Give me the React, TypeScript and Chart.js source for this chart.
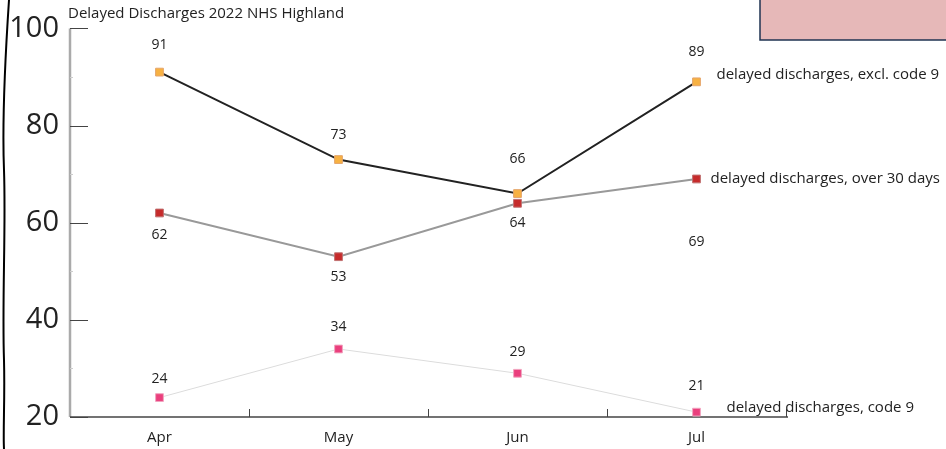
import React, { useEffect, useRef } from "react";
import { Chart, registerables } from "chart.js";

Chart.register(...registerables);

const months = ["Apr", "May", "Jun", "Jul"];
const exclCode9 = [91, 73, 66, 89];
const over30Days = [62, 53, 64, 69];
const code9 = [24, 34, 29, 21];
const seriesNames = [
  "delayed discharges, excl. code 9",
  "delayed discharges, over 30 days",
  "delayed discharges, code 9",
];
const yTicks = [20, 40, 60, 80, 100];
const chartTitle = "Delayed Discharges 2022 NHS Highland";

const FONT = "'Open Sans', 'Noto Sans', sans-serif";

// per-dataset label offsets (style only)
const labelOffsets = [
  [-27, -25, -35, -30],
  [22, 20, 20, 63],
  [-19, -22, -21, -26],
];
const nameOffsets = [
  { dx: 20, dy: -7 },
  { dx: 14, dy: 0 },
  { dx: 30, dy: -4 },
];

const decorPlugin = {
  id: "decor",
  beforeDraw(chart: any) {
    const ctx = chart.ctx;
    const ca = chart.chartArea;
    const x = chart.scales.x;
    const y = chart.scales.y;
    ctx.save();
    // pink box
    ctx.fillStyle = "#e6b8b8";
    ctx.fillRect(760, -2, 200, 42);
    ctx.strokeStyle = "#1f3352";
    ctx.lineWidth = 1.5;
    ctx.strokeRect(760, -2, 200, 42);
    // left wobbly border
    ctx.strokeStyle = "#000";
    ctx.lineWidth = 2;
    ctx.beginPath();
    ctx.moveTo(9, 0);
    ctx.bezierCurveTo(5, 60, 2, 120, 4, 170);
    ctx.bezierCurveTo(6, 230, 2, 300, 4, 360);
    ctx.bezierCurveTo(5, 400, 3, 430, 4, 449);
    ctx.stroke();
    // y axis line
    ctx.strokeStyle = "#aaa";
    ctx.lineWidth = 2.5;
    ctx.beginPath();
    ctx.moveTo(ca.left, ca.top);
    ctx.lineTo(ca.left, ca.bottom);
    ctx.stroke();
    // y major tick marks
    ctx.strokeStyle = "#444";
    ctx.lineWidth = 1;
    for (const v of yTicks) {
      const py = Math.round(y.getPixelForValue(v)) + 0.5;
      ctx.beginPath();
      ctx.moveTo(ca.left, py);
      ctx.lineTo(ca.left + 18, py);
      ctx.stroke();
    }
    // minor ticks
    ctx.strokeStyle = "#ccc";
    for (let i = 0; i < yTicks.length - 1; i++) {
      const py = Math.round(y.getPixelForValue((yTicks[i] + yTicks[i + 1]) / 2)) + 0.5;
      ctx.beginPath();
      ctx.moveTo(ca.left, py);
      ctx.lineTo(ca.left + 3, py);
      ctx.stroke();
    }
    // x axis line
    ctx.strokeStyle = "#444";
    ctx.lineWidth = 1.5;
    ctx.beginPath();
    ctx.moveTo(ca.left, ca.bottom);
    ctx.lineTo(ca.right + 2, ca.bottom);
    ctx.stroke();
    // x tick marks between categories
    ctx.lineWidth = 1;
    for (let i = 0; i < months.length; i++) {
      const next = i < months.length - 1 ? x.getPixelForValue(i + 1) : 2 * x.getPixelForValue(i) - x.getPixelForValue(i - 1);
      const px = Math.round((x.getPixelForValue(i) + next) / 2) + 0.5;
      ctx.beginPath();
      ctx.moveTo(px, ca.bottom);
      ctx.lineTo(px, ca.bottom - 8);
      ctx.stroke();
    }
    // title
    ctx.fillStyle = "#222";
    ctx.font = `15px ${FONT}`;
    ctx.textAlign = "left";
    ctx.textBaseline = "middle";
    ctx.fillText(chartTitle, ca.left - 2, 14);
    ctx.restore();
  },
  afterDatasetsDraw(chart: any) {
    const ctx = chart.ctx;
    ctx.save();
    ctx.fillStyle = "#222";
    ctx.textBaseline = "middle";
    chart.data.datasets.forEach((ds: any, di: number) => {
      const meta = chart.getDatasetMeta(di);
      ctx.font = `14px ${FONT}`;
      meta.data.forEach((pt: any, i: number) => {
        ctx.textAlign = "center";
        ctx.fillText(String(ds.data[i]), pt.x, pt.y + labelOffsets[di][i]);
      });
      const last = meta.data[meta.data.length - 1];
      ctx.font = `15px ${FONT}`;
      ctx.textAlign = "left";
      ctx.fillText(seriesNames[di], last.x + nameOffsets[di].dx, last.y + nameOffsets[di].dy);
    });
    ctx.restore();
  },
};

export default function App() {
  const ref = useRef<HTMLCanvasElement>(null);
  useEffect(() => {
    if (!ref.current) return;
    const chart = new Chart(ref.current, {
      type: "line",
      data: {
        labels: months,
        datasets: [
          {
            label: seriesNames[0],
            data: exclCode9,
            borderColor: "#222",
            borderWidth: 2,
            pointStyle: "rect",
            pointRadius: 5.5,
            pointBackgroundColor: "#f7b142",
            pointBorderColor: "#e5a56a",
            pointBorderWidth: 1,
            tension: 0,
          },
          {
            label: seriesNames[1],
            data: over30Days,
            borderColor: "#999",
            borderWidth: 2,
            pointStyle: "rect",
            pointRadius: 5.5,
            pointBackgroundColor: "#c62b2b",
            pointBorderColor: "#c07070",
            pointBorderWidth: 1,
            tension: 0,
          },
          {
            label: seriesNames[2],
            data: code9,
            borderColor: "#dcdcdc",
            borderWidth: 1,
            pointStyle: "rect",
            pointRadius: 5.5,
            pointBackgroundColor: "#ea3f7d",
            pointBorderColor: "#f2a5c0",
            pointBorderWidth: 1,
            tension: 0,
          },
        ],
      },
      options: {
        responsive: false,
        animation: false,
        events: [],
        layout: { padding: { top: 28, right: 160, left: 0, bottom: 0 } },
        plugins: { legend: { display: false }, title: { display: false }, tooltip: { enabled: false } },
        scales: {
          x: {
            offset: true,
            grid: { display: false, drawTicks: false },
            border: { display: false },
            ticks: { color: "#222", font: { family: FONT, size: 15 }, padding: 12 },
            afterFit: (s: any) => { s.height = 32; },
          },
          y: {
            min: 20,
            max: 100,
            afterBuildTicks: (s: any) => { s.ticks = yTicks.map((v) => ({ value: v })); },
            grid: { display: false, drawTicks: false },
            border: { display: false },
            ticks: { color: "#222", font: { family: FONT, size: 29 }, padding: 11 },
            afterFit: (s: any) => { s.width = 70; },
          },
        },
      },
      plugins: [decorPlugin],
    });
    return () => chart.destroy();
  }, []);
  return (
    <div style={{ position: "fixed", left: 0, top: 0, width: 946, height: 449, background: "#fff" }}>
      <canvas ref={ref} width={946} height={449} style={{ display: "block" }} />
    </div>
  );
}
